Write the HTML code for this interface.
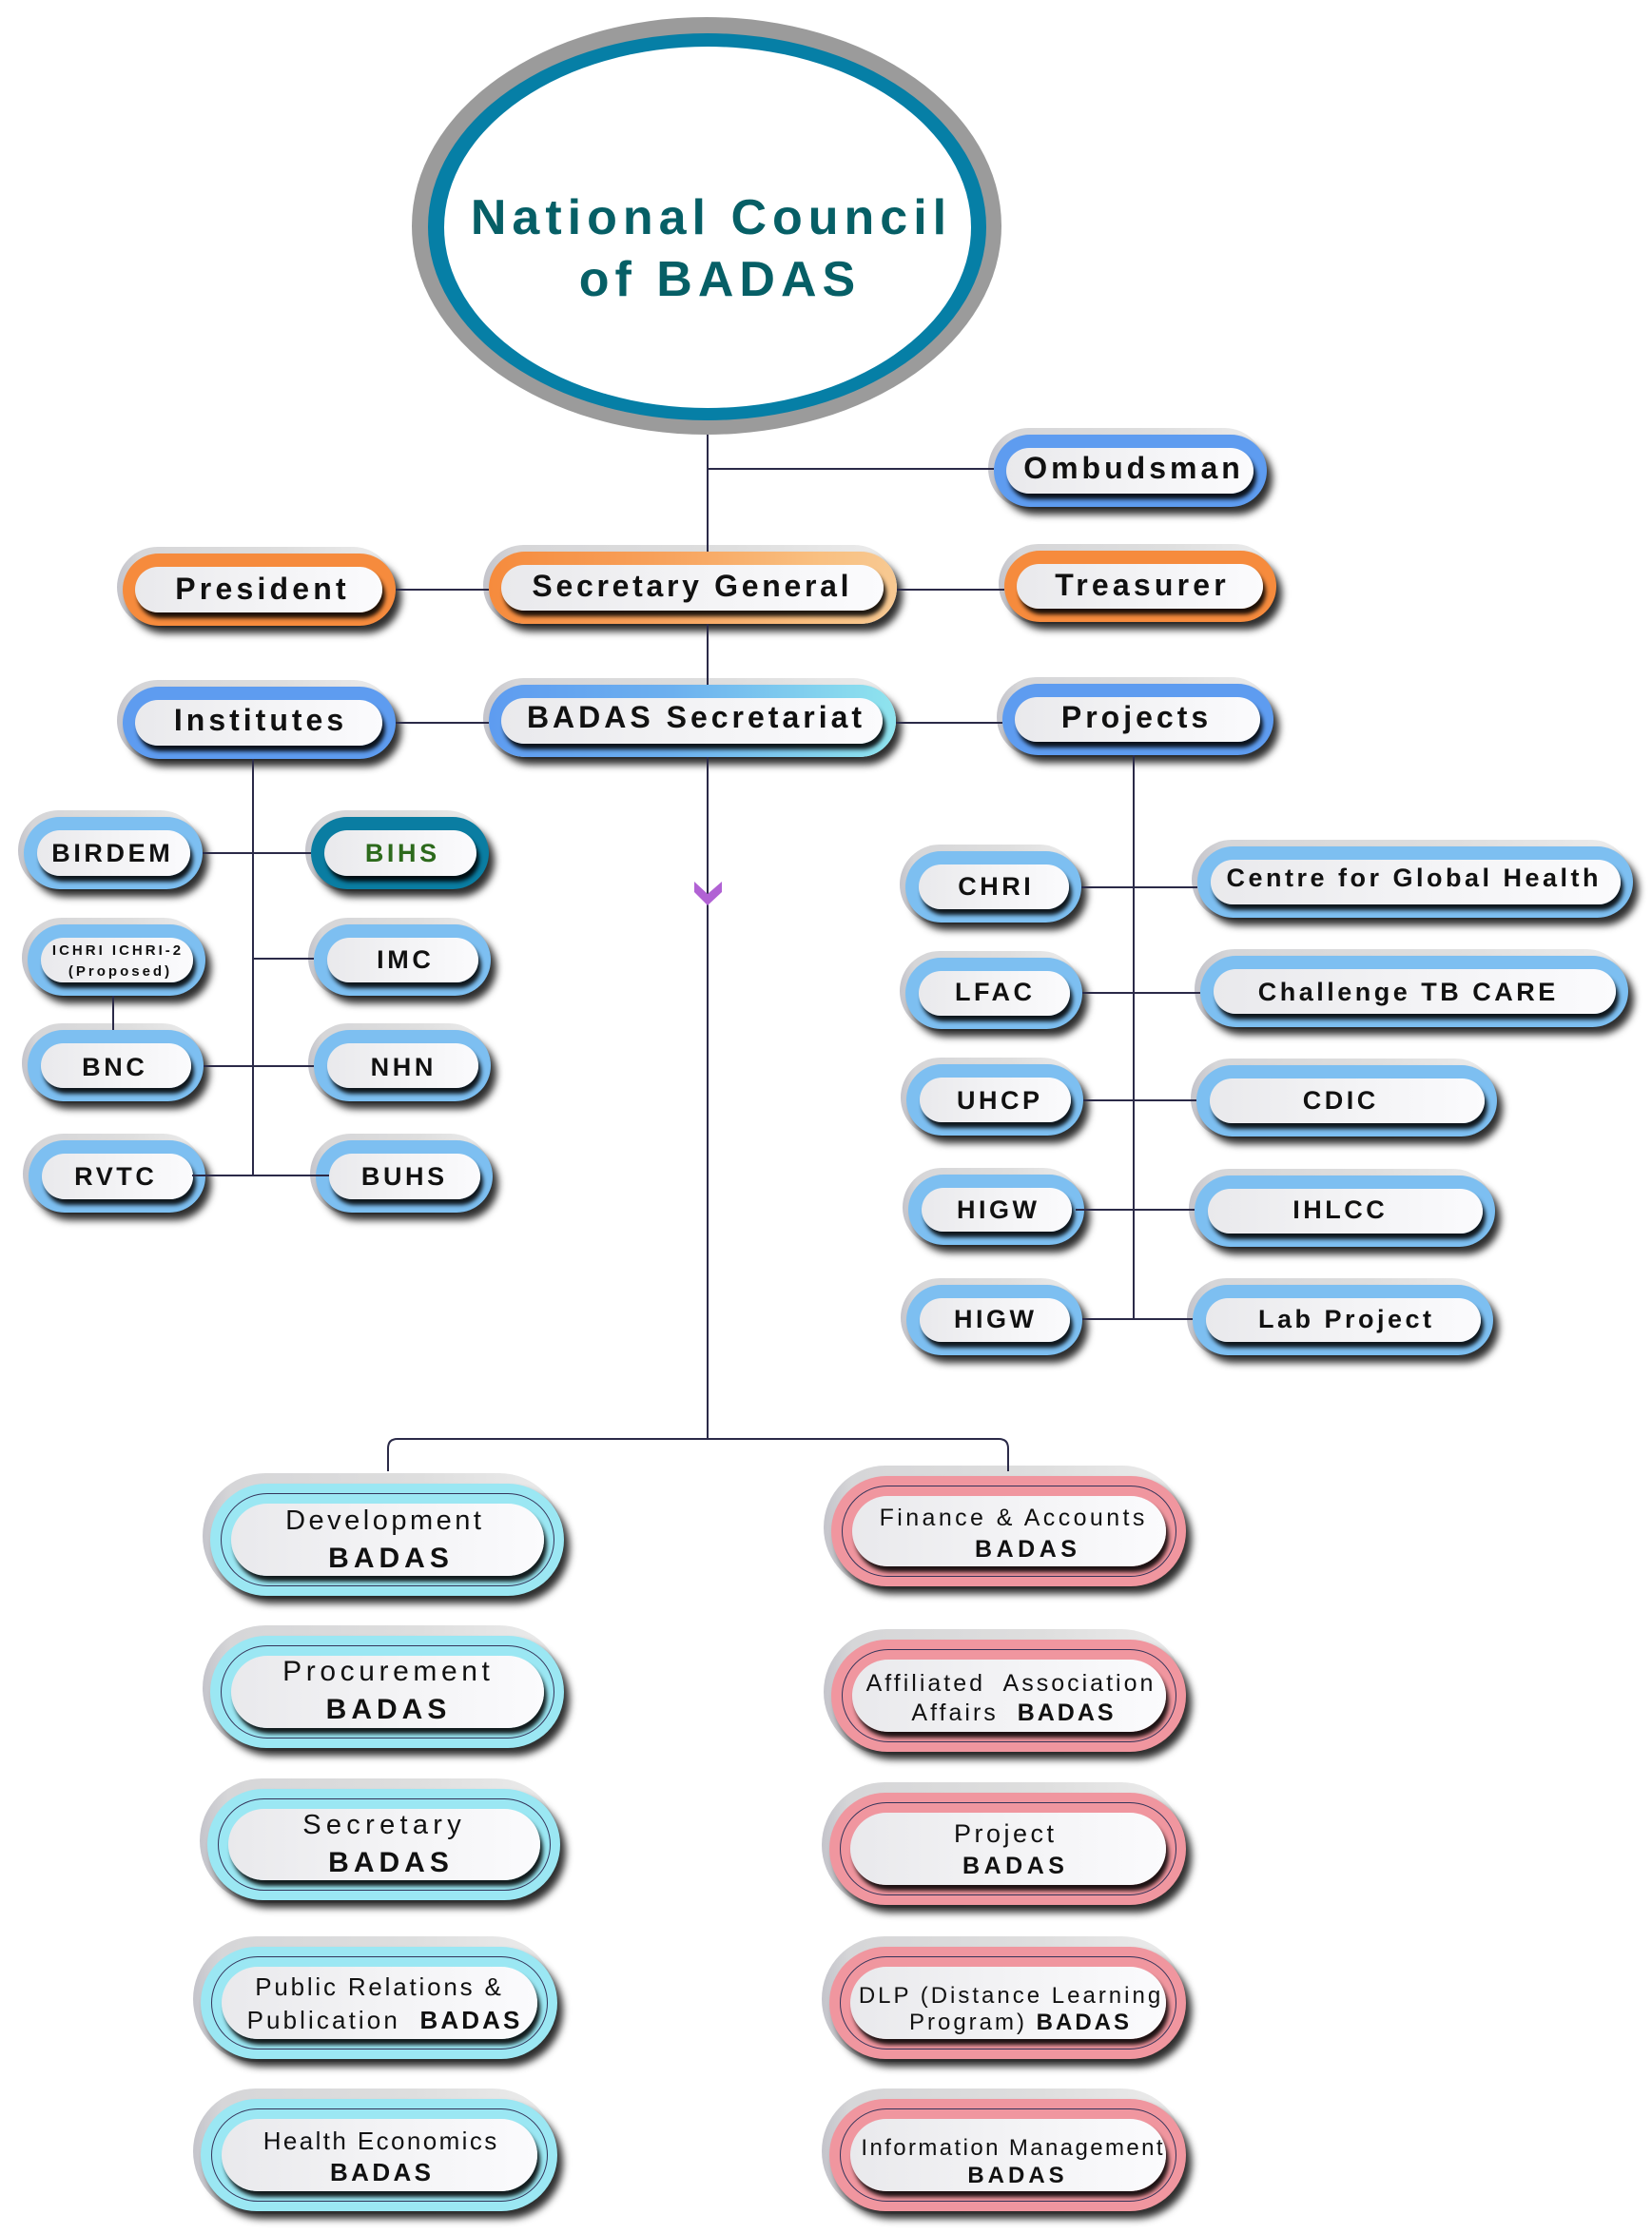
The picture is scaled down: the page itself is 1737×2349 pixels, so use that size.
<!DOCTYPE html>
<html>
<head>
<meta charset="utf-8">
<style>
  html,body{margin:0;padding:0;background:#fff;}
  body{width:1737px;height:2349px;position:relative;overflow:hidden;font-family:"Liberation Sans",Arial,sans-serif;}
  .pill{position:absolute;}
  .rim{position:absolute;left:-6px;top:-7px;right:2px;bottom:-2px;border-radius:999px;
       background:linear-gradient(90deg,#c4c4cb 0%,#d6d6d8 8%,#dedede 60%,#ececec 100%);}
  .b .rim{left:-8px;top:-11px;right:2px;bottom:-3px;}
  .band{position:absolute;left:0;top:0;right:0;bottom:0;border-radius:999px;box-shadow:6px 8px 8px rgba(0,0,0,.82);}
  .w{position:absolute;border-radius:999px;background:linear-gradient(90deg,#e9e9ec 0%,#f2f2f4 45%,#fbfbfd 100%);
     box-shadow:3px 6px 4px rgba(0,0,0,.88);}
  .top .w{left:13px;right:14px;top:14px;bottom:14px;}
  .c .w{left:14px;right:13px;top:14px;bottom:14px;}
  .b .w{left:22px;right:21px;top:21px;bottom:21px;}
  .ring{position:absolute;left:11px;right:10px;top:10px;bottom:10px;border-radius:999px;border:1px solid #34345a;}
  .t{position:absolute;width:600px;text-align:center;white-space:pre;line-height:1;color:#111;z-index:20;}
  .bd{font-weight:bold;}
  .or{background:#f68b3d;}
  .bl{background:#5e9cf0;}
  .lb{background:#7dbff1;}
  .cy{background:#9be7f3;}
  .pk{background:#f0969f;}
  svg{position:absolute;left:0;top:0;}
</style>
</head>
<body>

<!-- Ellipse + connectors -->
<svg width="1737" height="2349" style="z-index:1">
  <ellipse cx="743" cy="237.5" rx="310" ry="219.5" fill="#9b9b9b"/>
  <ellipse cx="743.5" cy="238.5" rx="293.5" ry="203.5" fill="#067fa6"/>
  <ellipse cx="744" cy="239" rx="277" ry="190" fill="#ffffff"/>
</svg>

<svg width="1737" height="2349" style="z-index:15">
  <g stroke="#2b2a48" stroke-width="2" fill="none">
    <path d="M744 457 V580"/>
    <path d="M744 656 V720"/>
    <path d="M744 796 V1513"/>
    <path d="M408 1547 V1523 Q408 1513 418 1513 H1050 Q1060 1513 1060 1523 V1547"/>
    <path d="M744 493 H1045"/>
    <path d="M416 620 H514"/>
    <path d="M943 620 H1056"/>
    <path d="M416 760 H514"/>
    <path d="M942 760 H1054"/>
    <path d="M266 798 V1236"/>
    <path d="M213 897 H327"/>
    <path d="M266 1008 H330"/>
    <path d="M119 1047 V1083"/>
    <path d="M214 1121 H330"/>
    <path d="M202 1236 H346"/>
    <path d="M1192 794 V1387"/>
    <path d="M1137 933 H1259"/>
    <path d="M1138 1044 H1262"/>
    <path d="M1139 1157 H1258"/>
    <path d="M1131 1272 H1256"/>
    <path d="M1138 1387 H1254"/>
  </g>
  <polygon points="730,927 744,940 759,927 759,938 744,952 730,938" fill="#b162d4"/>
</svg>

<!-- Top-level pills -->
<div class="pill top" style="left:1045px;top:457px;width:287px;height:76px"><div class="rim"></div><div class="band bl"></div><div class="w"></div></div>
<div class="pill top" style="left:129px;top:582px;width:287px;height:76px"><div class="rim"></div><div class="band or"></div><div class="w"></div></div>
<div class="pill top" style="left:514px;top:580px;width:429px;height:76px"><div class="rim"></div><div class="band" style="background:linear-gradient(90deg,#f68b3d 0%,#f7a05a 40%,#f9bf80 80%,#f7c992 100%)"></div><div class="w"></div></div>
<div class="pill top" style="left:1056px;top:579px;width:286px;height:75px"><div class="rim"></div><div class="band or"></div><div class="w"></div></div>
<div class="pill top" style="left:129px;top:722px;width:287px;height:76px"><div class="rim"></div><div class="band bl"></div><div class="w"></div></div>
<div class="pill top" style="left:514px;top:720px;width:428px;height:76px"><div class="rim"></div><div class="band" style="background:linear-gradient(90deg,#5e9cf0 0%,#6cb0ef 45%,#8fe4ee 100%)"></div><div class="w"></div></div>
<div class="pill top" style="left:1054px;top:719px;width:285px;height:75px"><div class="rim"></div><div class="band bl"></div><div class="w"></div></div>

<!-- Institutes children -->
<div class="pill c" style="left:25px;top:859px;width:188px;height:76px"><div class="rim"></div><div class="band lb"></div><div class="w"></div></div>
<div class="pill c" style="left:327px;top:859px;width:187px;height:76px"><div class="rim"></div><div class="band" style="background:#0a7da2"></div><div class="w"></div></div>
<div class="pill c" style="left:29px;top:972px;width:187px;height:75px"><div class="rim"></div><div class="band lb"></div><div class="w"></div></div>
<div class="pill c" style="left:330px;top:972px;width:186px;height:75px"><div class="rim"></div><div class="band lb"></div><div class="w"></div></div>
<div class="pill c" style="left:29px;top:1083px;width:185px;height:75px"><div class="rim"></div><div class="band lb"></div><div class="w"></div></div>
<div class="pill c" style="left:330px;top:1083px;width:186px;height:75px"><div class="rim"></div><div class="band lb"></div><div class="w"></div></div>
<div class="pill c" style="left:30px;top:1199px;width:186px;height:76px"><div class="rim"></div><div class="band lb"></div><div class="w"></div></div>
<div class="pill c" style="left:332px;top:1199px;width:186px;height:76px"><div class="rim"></div><div class="band lb"></div><div class="w"></div></div>

<!-- Projects children -->
<div class="pill c" style="left:952px;top:895px;width:185px;height:75px"><div class="rim"></div><div class="band lb"></div><div class="w"></div></div>
<div class="pill c" style="left:1259px;top:890px;width:458px;height:75px"><div class="rim"></div><div class="band lb"></div><div class="w"></div></div>
<div class="pill c" style="left:952px;top:1007px;width:186px;height:75px"><div class="rim"></div><div class="band lb"></div><div class="w"></div></div>
<div class="pill c" style="left:1262px;top:1005px;width:450px;height:75px"><div class="rim"></div><div class="band lb"></div><div class="w"></div></div>
<div class="pill c" style="left:953px;top:1119px;width:186px;height:75px"><div class="rim"></div><div class="band lb"></div><div class="w"></div></div>
<div class="pill c" style="left:1258px;top:1120px;width:316px;height:75px"><div class="rim"></div><div class="band lb"></div><div class="w"></div></div>
<div class="pill c" style="left:955px;top:1235px;width:185px;height:74px"><div class="rim"></div><div class="band lb"></div><div class="w"></div></div>
<div class="pill c" style="left:1256px;top:1236px;width:316px;height:75px"><div class="rim"></div><div class="band lb"></div><div class="w"></div></div>
<div class="pill c" style="left:953px;top:1351px;width:185px;height:74px"><div class="rim"></div><div class="band lb"></div><div class="w"></div></div>
<div class="pill c" style="left:1254px;top:1351px;width:316px;height:74px"><div class="rim"></div><div class="band lb"></div><div class="w"></div></div>

<!-- Bottom pills -->
<div class="pill b" style="left:221px;top:1560px;width:372px;height:118px"><div class="rim"></div><div class="band cy"></div><div class="ring"></div><div class="w"></div></div>
<div class="pill b" style="left:221px;top:1720px;width:372px;height:118px"><div class="rim"></div><div class="band cy"></div><div class="ring"></div><div class="w"></div></div>
<div class="pill b" style="left:218px;top:1881px;width:371px;height:117px"><div class="rim"></div><div class="band cy"></div><div class="ring"></div><div class="w"></div></div>
<div class="pill b" style="left:211px;top:2047px;width:375px;height:118px"><div class="rim"></div><div class="band cy"></div><div class="ring"></div><div class="w"></div></div>
<div class="pill b" style="left:211px;top:2207px;width:375px;height:118px"><div class="rim"></div><div class="band cy"></div><div class="ring"></div><div class="w"></div></div>

<div class="pill b" style="left:874px;top:1552px;width:373px;height:116px"><div class="rim"></div><div class="band pk"></div><div class="ring"></div><div class="w"></div></div>
<div class="pill b" style="left:874px;top:1724px;width:373px;height:118px"><div class="rim"></div><div class="band pk"></div><div class="ring"></div><div class="w"></div></div>
<div class="pill b" style="left:872px;top:1885px;width:375px;height:118px"><div class="rim"></div><div class="band pk"></div><div class="ring"></div><div class="w"></div></div>
<div class="pill b" style="left:872px;top:2047px;width:375px;height:118px"><div class="rim"></div><div class="band pk"></div><div class="ring"></div><div class="w"></div></div>
<div class="pill b" style="left:872px;top:2207px;width:375px;height:118px"><div class="rim"></div><div class="band pk"></div><div class="ring"></div><div class="w"></div></div>

<!-- Ellipse text -->
<div class="t bd" style="left:445px;top:203px;font-size:52px;letter-spacing:6px;text-indent:6px;color:#065f66">National Council</div>
<div class="t bd" style="left:454px;top:268px;font-size:52px;letter-spacing:6px;text-indent:6px;color:#065f66">of BADAS</div>

<!-- Top-level text -->
<div class="t bd" style="left:890px;top:476px;font-size:32px;letter-spacing:4px;text-indent:4px">Ombudsman</div>
<div class="t bd" style="left:-26px;top:603px;font-size:32px;letter-spacing:4.2px;text-indent:4.2px">President</div>
<div class="t bd" style="left:426px;top:600px;font-size:32px;letter-spacing:3.7px;text-indent:3.7px">Secretary General</div>
<div class="t bd" style="left:899px;top:599px;font-size:32px;letter-spacing:4.2px;text-indent:4.2px">Treasurer</div>
<div class="t bd" style="left:-28px;top:741px;font-size:32px;letter-spacing:4px;text-indent:4px">Institutes</div>
<div class="t bd" style="left:430px;top:738px;font-size:32px;letter-spacing:4px;text-indent:4px">BADAS Secretariat</div>
<div class="t bd" style="left:893px;top:738px;font-size:32px;letter-spacing:4px;text-indent:4px">Projects</div>

<!-- Institutes children text -->
<div class="t bd" style="left:-183.5px;top:884px;font-size:27px;letter-spacing:3.6px;text-indent:3.6px">BIRDEM</div>
<div class="t bd" style="left:121.5px;top:884px;font-size:27px;letter-spacing:3.6px;text-indent:3.6px;color:#2d6a1c">BIHS</div>
<div class="t bd" style="left:-177.5px;top:992px;font-size:15px;letter-spacing:3px;text-indent:3px">ICHRI ICHRI-2</div>
<div class="t bd" style="left:-175px;top:1014px;font-size:15px;letter-spacing:3px;text-indent:3px">(Proposed)</div>
<div class="t bd" style="left:124.5px;top:996px;font-size:27px;letter-spacing:3.6px;text-indent:3.6px">IMC</div>
<div class="t bd" style="left:-181px;top:1109px;font-size:27px;letter-spacing:3.6px;text-indent:3.6px">BNC</div>
<div class="t bd" style="left:122.5px;top:1109px;font-size:27px;letter-spacing:3.6px;text-indent:3.6px">NHN</div>
<div class="t bd" style="left:-180px;top:1224px;font-size:27px;letter-spacing:3.6px;text-indent:3.6px">RVTC</div>
<div class="t bd" style="left:123.5px;top:1224px;font-size:27px;letter-spacing:3.6px;text-indent:3.6px">BUHS</div>

<!-- Projects children text -->
<div class="t bd" style="left:745.5px;top:919px;font-size:27px;letter-spacing:3.5px;text-indent:3.5px">CHRI</div>
<div class="t bd" style="left:1185px;top:910px;font-size:27px;letter-spacing:3.5px;text-indent:3.5px">Centre for Global Health</div>
<div class="t bd" style="left:744.5px;top:1030px;font-size:27px;letter-spacing:3.5px;text-indent:3.5px">LFAC</div>
<div class="t bd" style="left:1179px;top:1030px;font-size:27px;letter-spacing:3.5px;text-indent:3.5px">Challenge TB CARE</div>
<div class="t bd" style="left:749.5px;top:1144px;font-size:27px;letter-spacing:3.5px;text-indent:3.5px">UHCP</div>
<div class="t bd" style="left:1108px;top:1144px;font-size:27px;letter-spacing:3.5px;text-indent:3.5px">CDIC</div>
<div class="t bd" style="left:748px;top:1259px;font-size:27px;letter-spacing:3.5px;text-indent:3.5px">HIGW</div>
<div class="t bd" style="left:1107.5px;top:1259px;font-size:27px;letter-spacing:3.5px;text-indent:3.5px">IHLCC</div>
<div class="t bd" style="left:745px;top:1374px;font-size:27px;letter-spacing:3.5px;text-indent:3.5px">HIGW</div>
<div class="t bd" style="left:1114px;top:1374px;font-size:27px;letter-spacing:3.5px;text-indent:3.5px">Lab Project</div>

<!-- Bottom left text -->
<div class="t" style="left:103px;top:1585px;font-size:29px;letter-spacing:3.5px;text-indent:3.5px">Development</div>
<div class="t bd" style="left:108.5px;top:1624px;font-size:30px;letter-spacing:5px;text-indent:5px">BADAS</div>
<div class="t" style="left:106px;top:1743px;font-size:30px;letter-spacing:4.6px;text-indent:4.6px">Procurement</div>
<div class="t bd" style="left:106px;top:1783px;font-size:30px;letter-spacing:5px;text-indent:5px">BADAS</div>
<div class="t" style="left:101.5px;top:1905px;font-size:29px;letter-spacing:5.3px;text-indent:5.3px">Secretary</div>
<div class="t bd" style="left:108.5px;top:1944px;font-size:30px;letter-spacing:5px;text-indent:5px">BADAS</div>
<div class="t" style="left:97.5px;top:2076px;font-size:26px;letter-spacing:2.8px;text-indent:2.8px">Public Relations &amp;</div>
<div class="t" style="left:103px;top:2111px;font-size:26px;letter-spacing:3.1px;text-indent:3.1px">Publication  <span class="bd">BADAS</span></div>
<div class="t" style="left:99.5px;top:2238px;font-size:26px;letter-spacing:2.4px;text-indent:2.4px">Health Economics</div>
<div class="t bd" style="left:100px;top:2271px;font-size:26px;letter-spacing:3.4px;text-indent:3.4px">BADAS</div>

<!-- Bottom right text -->
<div class="t" style="left:764px;top:1584px;font-size:25px;letter-spacing:3.4px;text-indent:3.4px">Finance &amp; Accounts</div>
<div class="t bd" style="left:778.5px;top:1617px;font-size:25px;letter-spacing:4.5px;text-indent:4.5px">BADAS</div>
<div class="t" style="left:761.5px;top:1758px;font-size:25px;letter-spacing:3px;text-indent:3px">Affiliated  Association</div>
<div class="t" style="left:764.5px;top:1789px;font-size:25px;letter-spacing:3px;text-indent:3px">Affairs  <span class="bd">BADAS</span></div>
<div class="t" style="left:755.5px;top:1915px;font-size:27px;letter-spacing:3.5px;text-indent:3.5px">Project</div>
<div class="t bd" style="left:765.5px;top:1950px;font-size:25px;letter-spacing:4.5px;text-indent:4.5px">BADAS</div>
<div class="t" style="left:761.5px;top:2087px;font-size:24px;letter-spacing:3px;text-indent:3px">DLP (Distance Learning</div>
<div class="t" style="left:771.5px;top:2115px;font-size:24px;letter-spacing:3px;text-indent:3px">Program) <span class="bd">BADAS</span></div>
<div class="t" style="left:764px;top:2247px;font-size:24px;letter-spacing:2.4px;text-indent:2.4px">Information Management</div>
<div class="t bd" style="left:768px;top:2276px;font-size:24px;letter-spacing:4px;text-indent:4px">BADAS</div>

</body>
</html>
